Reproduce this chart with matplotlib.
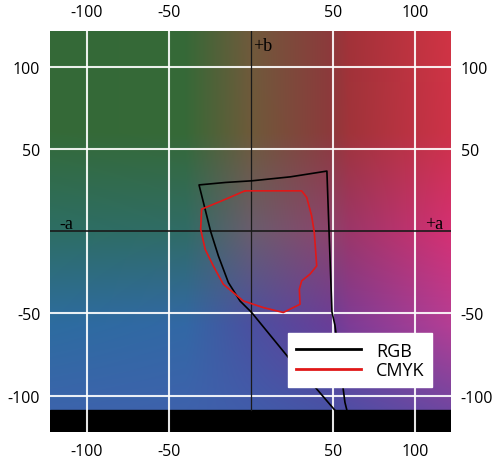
import numpy as np
import matplotlib
matplotlib.use("Agg")
import matplotlib.pyplot as plt

plt.rcParams['axes.unicode_minus'] = False
plt.rcParams['font.family'] = ['Open Sans', 'DejaVu Sans']

# tick positions (a* horizontal, b* vertical)
x_ticks = [-100, -50, 50, 100]
y_ticks = [-100, -50, 50, 100]

# RGB gamut outline (a*, b*)
rgb_a = [51.2, 40.2, 23.2, 6.7, 0.4, -6.7, -13.8, -19.9, -24.6, -28.0, -31.7,
         -15.5, 0.6, 24.0, 46.3, 47.6, 49.4, 51.2, 57.3, 58.5]
rgb_b = [-108.8, -96.0, -77.2, -57.1, -49.4, -42.4, -31.2, -15.0, -0.2, 13.4, 28.1,
         29.6, 30.6, 33.0, 36.5, 0.0, -49.2, -57.1, -104.0, -108.8]

# CMYK gamut outline (a*, b*)
cmyk_a = [-3.7, 30.9, 34.0, 37.0, 38.6, 40.1, 36.0, 30.9, 29.5, 29.9, 19.7, 7.5, -4.7,
          -16.9, -23.0, -28.0, -30.7, -30.1, -17.9, -3.7]
cmyk_b = [24.5, 24.5, 20.5, 9.3, -0.8, -21.1, -26.1, -30.2, -35.3, -44.4, -49.4, -46.4, -42.4,
          -32.2, -21.1, -10.9, 1.2, 13.4, 18.4, 24.5]

# background colour samples of the a*b* plane
bg_a = [-122, -40, 0, 48, 60, 122]
bg_b = [122, 60, 0, -57, -109]
bg_rgb = [
    [(52, 106, 56), (54, 105, 55), (112, 90, 60), (140, 58, 60), (162, 50, 57), (208, 52, 68)],
    [(52, 106, 56), (54, 105, 55), (110, 90, 58), (140, 58, 60), (160, 52, 58), (205, 50, 72)],
    [(45, 110, 100), (48, 108, 102), (105, 93, 110), (140, 68, 108), (155, 55, 105), (212, 48, 115)],
    [(45, 108, 160), (50, 104, 165), (75, 80, 160), (105, 62, 152), (125, 60, 150), (180, 62, 148)],
    [(60, 100, 172), (62, 98, 172), (65, 92, 170), (72, 82, 165), (80, 78, 165), (112, 70, 160)],
]

xmin, xmax = -122.6, 122.0
ymin, ymax = -122.0, 121.6
band_top = -108.8

# build the colour field
grid = np.array(bg_rgb, dtype=float) / 255.0
xs = np.linspace(xmin, xmax, 400)
ys = np.linspace(ymax, ymin, 400)
rows = np.zeros((len(bg_b), len(xs), 3))
for i in range(len(bg_b)):
    for c in range(3):
        rows[i, :, c] = np.interp(xs, bg_a, grid[i, :, c])
img = np.zeros((len(ys), len(xs), 3))
bb = bg_b[::-1]
for c in range(3):
    for j in range(len(xs)):
        img[:, j, c] = np.interp(ys, bb, rows[::-1, j, c])

fig = plt.figure(figsize=(4.94, 4.64), dpi=100)
ax = fig.add_axes([50 / 494, 31 / 464, 401 / 494, 401 / 464])

ax.imshow(img, extent=[xmin, xmax, ymin, ymax], aspect='auto', zorder=0, interpolation='bilinear')
ax.axhspan(ymin, band_top, color='black', zorder=1)

ax.axvline(0, ymin=(band_top - ymin) / (ymax - ymin), color='#1a1a1a', lw=0.9, zorder=1.6)
ax.axhline(0, color='#1a1a1a', lw=1.2, zorder=1.6)

ax.plot(rgb_a, rgb_b, color='black', lw=1.2, label='RGB', zorder=3)
ax.plot(cmyk_a, cmyk_b, color='#e01818', lw=1.2, label='CMYK', zorder=3)

ax.set_xlim(xmin, xmax)
ax.set_ylim(ymin, ymax)
ax.set_xticks(x_ticks)
ax.set_yticks(y_ticks)
ax.set_xticklabels([str(t) for t in x_ticks])
ax.set_yticklabels([str(t) for t in y_ticks])
ax.tick_params(axis='x', length=0, top=True, labeltop=True, bottom=True, labelbottom=True,
               labelsize=11.5, pad=8)
ax.tick_params(axis='y', length=0, left=True, labelleft=True, right=True, labelright=True,
               labelsize=11.5, pad=7)
ax.grid(True, color='white', lw=1.5, alpha=0.9)
ax.set_axisbelow('line')
for s in ax.spines.values():
    s.set_visible(False)

serif = ['Liberation Serif', 'DejaVu Serif']
ax.text(1, 112.5, '+b', family=serif, fontsize=13, ha='left', va='center', zorder=4)
ax.text(-117, 4.5, '-a', family=serif, fontsize=13, ha='left', va='center', zorder=4)
ax.text(106, 4.5, '+a', family=serif, fontsize=13, ha='left', va='center', zorder=4)

leg = ax.legend(loc='lower left', bbox_to_anchor=(0.594, 0.112), borderaxespad=0,
                fontsize=13, handlelength=3.6, handletextpad=0.8, borderpad=0.45,
                labelspacing=0.08, fancybox=False, framealpha=1, edgecolor='white')
leg.set_zorder(5)
for line in leg.get_lines():
    line.set_linewidth(2)

fig.savefig('out.png', dpi=100)
